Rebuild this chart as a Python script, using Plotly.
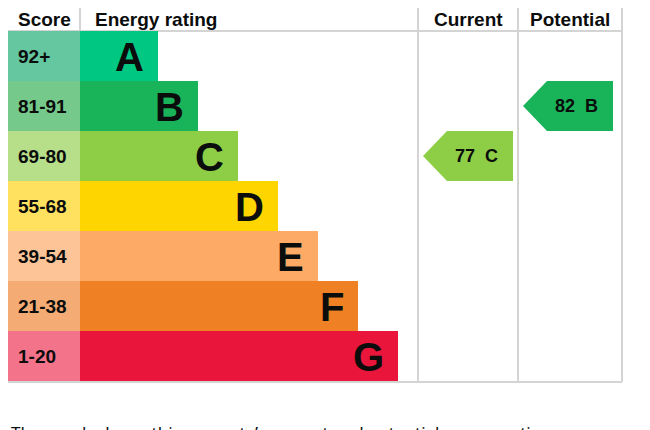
import plotly.graph_objects as go

bands = ["A", "B", "C", "D", "E", "F", "G"]
score_ranges = ["92+", "81-91", "69-80", "55-68", "39-54", "21-38", "1-20"]
band_colors = ["#00c781", "#19b459", "#8dce46", "#ffd500", "#fcaa65", "#ef8023", "#e9153b"]
score_colors = ["#64c7a0", "#75c98a", "#b7df89", "#ffe15f", "#fdc597", "#f4ac74", "#f3738a"]
headers = ["Score", "Energy rating", "Current", "Potential"]
current_score, current_band = 77, "C"
potential_score, potential_band = 82, "B"
caption = "The graph shows this property\u2019s current and potential energy rating."

# layout in page pixels (the page body adds an 8px offset)
W, H, OFF = 650, 430, 8
LEFT, RIGHT = 8, 622
TOP, HEAD_B, ROW_H = 6, 31, 50
BAR0, BAR_LEN0, BAR_STEP = 80, 78, 40
COL_CUR, COL_POT = 418, 518
INK = "#0b0c0c"
GRID = "#d4d4d4"
FONT = "Liberation Sans, Arial, sans-serif"
BOTTOM = HEAD_B + ROW_H * len(bands) + 1

def row_mid(i):
    return HEAD_B + ROW_H * (i + 0.5)

fig = go.Figure()

# score column cells
fig.add_trace(go.Bar(
    orientation="h", y=[row_mid(i) for i in range(len(bands))],
    x=[BAR0 - LEFT] * len(bands), base=LEFT, width=ROW_H,
    marker=dict(color=score_colors, line=dict(width=0)),
    hoverinfo="skip", showlegend=False))

# rating bars
fig.add_trace(go.Bar(
    orientation="h", y=[row_mid(i) for i in range(len(bands))],
    x=[BAR_LEN0 + BAR_STEP * i for i in range(len(bands))], base=BAR0, width=ROW_H,
    marker=dict(color=band_colors, line=dict(width=0)),
    hoverinfo="skip", showlegend=False))

annotations = []
for i, (b, s) in enumerate(zip(bands, score_ranges)):
    annotations.append(dict(x=LEFT + 8, y=row_mid(i), text="<b>%s</b>" % s, xanchor="left",
                            yanchor="middle", showarrow=False, font=dict(size=19, color=INK)))
    end = BAR0 + BAR_LEN0 + BAR_STEP * i
    annotations.append(dict(x=end - 12, y=row_mid(i) + 1, text="<b>%s</b>" % b, xanchor="right",
                            yanchor="middle", showarrow=False, font=dict(size=40, color=INK)))

# headers
annotations += [
    dict(x=LEFT + 8, y=19, text="<b>%s</b>" % headers[0], xanchor="left"),
    dict(x=BAR0 + 13, y=19, text="<b>%s</b>" % headers[1], xanchor="left"),
    dict(x=(COL_CUR + COL_POT) / 2, y=19, text="<b>%s</b>" % headers[2], xanchor="center"),
    dict(x=(COL_POT + RIGHT) / 2, y=19, text="<b>%s</b>" % headers[3], xanchor="center"),
]
for a in annotations[-4:]:
    a.update(yanchor="middle", showarrow=False, font=dict(size=19, color=INK))

shapes = []
# rating arrows
for col_x, score, band in [(COL_CUR, current_score, current_band), (COL_POT, potential_score, potential_band)]:
    i = bands.index(band)
    top, bot = HEAD_B + ROW_H * i, HEAD_B + ROW_H * (i + 1)
    tip, body, end = col_x + 5, col_x + 29, col_x + 95
    shapes.append(dict(type="path", xref="x", yref="y",
                       path="M %d %d L %d %d L %d %d L %d %d L %d %d Z" % (
                           tip, (top + bot) / 2, body, top, end, top, end, bot, body, bot),
                       fillcolor=band_colors[i], line=dict(width=0), layer="above"))
    annotations.append(dict(x=body + 29, y=(top + bot) / 2, text="<b>%d&nbsp; %s</b>" % (score, band),
                            xanchor="center", yanchor="middle", showarrow=False,
                            font=dict(size=18, color=INK)))

# grid lines
for x0, y0, x1, y1 in [(LEFT, TOP, RIGHT, TOP), (LEFT, HEAD_B, RIGHT, HEAD_B),
                       (LEFT, BOTTOM, RIGHT, BOTTOM), (BAR0, TOP, BAR0, HEAD_B),
                       (COL_CUR, TOP, COL_CUR, BOTTOM), (COL_POT, TOP, COL_POT, BOTTOM),
                       (RIGHT, TOP, RIGHT, BOTTOM)]:
    shapes.append(dict(type="line", xref="x", yref="y", x0=x0, y0=y0, x1=x1, y1=y1,
                       line=dict(color=GRID, width=2), layer="below"))

annotations.append(dict(x=LEFT + 1, y=419, text=caption, xanchor="left", yanchor="top", showarrow=False,
                        font=dict(size=17, color=INK, family="Noto Sans, sans-serif")))

fig.update_layout(
    width=W, height=H, margin=dict(l=0, r=0, t=0, b=0),
    paper_bgcolor="white", plot_bgcolor="white",
    font=dict(family=FONT, color=INK),
    barmode="overlay", bargap=0,
    xaxis=dict(range=[OFF, W + OFF], visible=False, fixedrange=True),
    yaxis=dict(range=[H + OFF, OFF], visible=False, fixedrange=True),
    shapes=shapes, annotations=annotations,
)

fig.write_html("out.html", config={"displayModeBar": False})
